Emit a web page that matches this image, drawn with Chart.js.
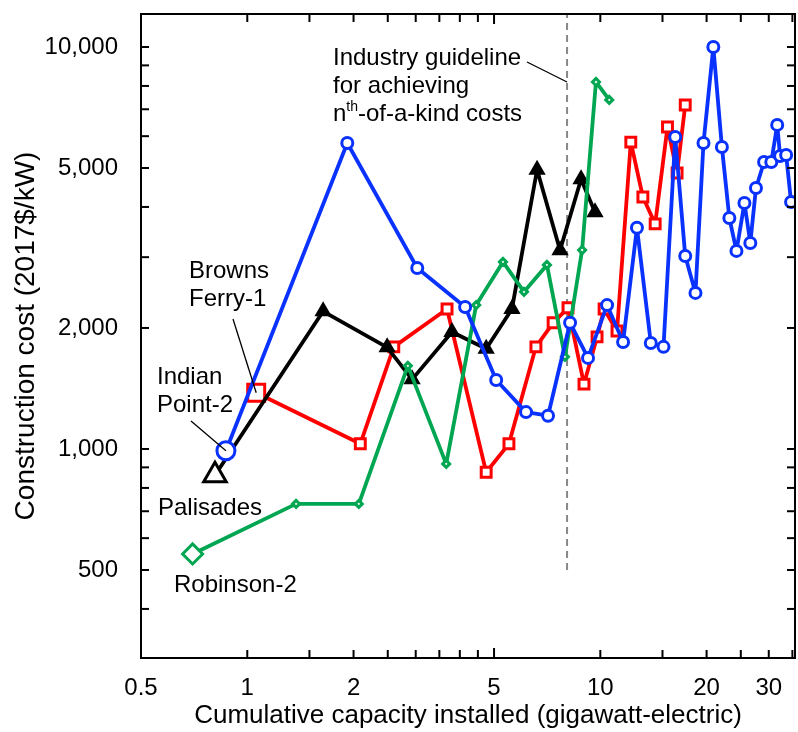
<!DOCTYPE html>
<html lang="en">
<head>
<script src="https://cdn.jsdelivr.net/npm/chart.js@4.4.1/dist/chart.umd.min.js"></script>
<style>
  html, body { margin: 0; padding: 0; background: #fff; }
</style>
</head>
<body>
<canvas id="chart" width="798" height="732"></canvas>
<script>
// cumulative capacity (GWe) and construction cost (2017$/kW), one pair per reactor series
const indianX = [0.87, 1.92, 3.03, 4.14, 5.07, 6.16, 7.11, 8.21, 9.23, 10.45, 11.6, 12.7, 13.9, 15.1, 16.3, 17.4,
                 18.6, 19.6, 20.9, 22.1, 23.2, 24.3, 25.6, 26.6, 27.6, 29.1, 30.5, 31.7, 32.3, 33.6, 34.7];
const indianY = [990, 5770, 2820, 2255, 1485, 1235, 1210, 2060, 1685, 2280, 1845, 3550, 1835, 1795, 5970, 3020,
                 2445, 5770, 10000, 5640, 3755, 3110, 4090, 3255, 4460, 5175, 5175, 6400, 5355, 5385, 4115];

const brownsX = [1.06, 2.09, 2.60, 3.68, 4.75, 5.51, 6.57, 7.35, 8.10, 8.99, 9.79, 10.25, 11.15, 12.2, 13.2, 14.3, 15.5, 16.5, 17.4];
const brownsY = [1380, 1030, 1795, 2230, 875, 1030, 1795, 2060, 2245, 1450, 1900, 2230, 1965, 5800, 4235, 3630, 6325, 4860, 7175];

const palisadesX = [0.81, 1.64, 2.49, 2.93, 3.80, 4.75, 5.62, 6.62, 7.69, 8.82, 9.66];
const palisadesY = [860, 2200, 1790, 1490, 1955, 1775, 2230, 4950, 3120, 4690, 3880];

const robinsonX = [0.70, 1.375, 2.07, 2.85, 3.66, 4.45, 5.30, 6.08, 7.06, 7.94, 8.88, 9.72, 10.6];
const robinsonY = [548, 730, 730, 1610, 918, 2280, 2920, 2460, 2870, 1695, 3125, 8185, 7385];

const guidelineX = 8.05;
const guidelineFloor = 500;

const xLabelTicks = [0.5, 1, 2, 5, 10, 20, 30];
const yLabelTicks = [500, 1000, 2000, 5000, 10000];
const xMarkTicks = [1, 1.5, 2, 2.5, 3, 3.5, 4, 4.5, 5, 10, 15, 20, 25, 30, 35];
const yMarkTicks = [400, 500, 600, 700, 800, 900, 1000, 2000, 3000, 4000, 5000, 6000, 7000, 8000, 9000, 10000];

const FONT = "'Liberation Sans', Arial, Helvetica, sans-serif";

function series(xs, ys, color, style, big, small, fillFirst, fillRest) {
  return {
    data: xs.map((x, i) => ({x: x, y: ys[i]})),
    borderColor: color,
    borderWidth: 3.8,
    borderJoinStyle: 'round',
    pointStyle: style,
    pointRadius: xs.map((_, i) => i === 0 ? big : small),
    pointBorderColor: color,
    pointBorderWidth: 3,
    pointBackgroundColor: xs.map((_, i) => i === 0 ? fillFirst : fillRest),
    tension: 0
  };
}

const tickline = (ctx, x1, y1, x2, y2) => {
  ctx.beginPath(); ctx.moveTo(x1, y1); ctx.lineTo(x2, y2); ctx.stroke();
};

const decor = {
  id: 'decor',
  beforeDatasetsDraw(chart) {
    const {ctx, chartArea: a, scales: {x, y}} = chart;
    const gx = x.getPixelForValue(guidelineX);
    ctx.save();
    ctx.strokeStyle = '#888';
    ctx.lineWidth = 2;
    ctx.setLineDash([7, 5]);
    tickline(ctx, gx, y.getPixelForValue(guidelineFloor), gx, a.top);
    ctx.restore();
  },
  afterDatasetsDraw(chart) {
    const {ctx, chartArea: a, scales: {x, y}} = chart;
    ctx.save();
    // frame + inward ticks
    ctx.strokeStyle = '#000';
    ctx.lineWidth = 2;
    ctx.strokeRect(a.left, a.top, a.right - a.left, a.bottom - a.top);
    xMarkTicks.forEach(v => {
      const px = x.getPixelForValue(v);
      const len = v === 5 ? 10 : 8;
      tickline(ctx, px, a.bottom, px, a.bottom - len);
      tickline(ctx, px, a.top, px, a.top + len);
    });
    yMarkTicks.forEach(v => {
      const py = y.getPixelForValue(v);
      tickline(ctx, a.left, py, a.left + 8, py);
      tickline(ctx, a.right, py, a.right - 8, py);
    });

    // labels and leader lines
    ctx.fillStyle = '#000';
    ctx.font = '24px ' + FONT;
    ctx.textBaseline = 'alphabetic';
    ctx.textAlign = 'left';
    ctx.lineWidth = 1.3;

    const gx = x.getPixelForValue(guidelineX);
    ctx.fillText('Industry guideline', 333, 65);
    ctx.fillText('for achieving', 333, 93);
    ctx.fillText('n', 333, 121);
    const nW = ctx.measureText('n').width;
    ctx.font = '14px ' + FONT;
    ctx.fillText('th', 333 + nW, 111);
    const thW = ctx.measureText('th').width;
    ctx.font = '24px ' + FONT;
    ctx.fillText('-of-a-kind costs', 333 + nW + thW, 121);
    tickline(ctx, 527, 62, gx, 82);

    const bfx = x.getPixelForValue(brownsX[0]), bfy = y.getPixelForValue(brownsY[0]);
    ctx.fillText('Browns', 189, 278);
    ctx.fillText('Ferry-1', 189, 306);
    tickline(ctx, 233, 319, bfx, bfy);

    const ipx = x.getPixelForValue(indianX[0]), ipy = y.getPixelForValue(indianY[0]);
    ctx.fillText('Indian', 157, 384);
    ctx.fillText('Point-2', 157, 412);
    tickline(ctx, 191, 421, ipx, ipy);

    ctx.fillText('Palisades', 158, 515);
    ctx.fillText('Robinson-2', 174, 592);
    ctx.restore();
  }
};

new Chart(document.getElementById('chart'), {
  type: 'line',
  data: {
    datasets: [
      series(indianX, indianY, '#0a32ff', 'circle', 9, 5.5, '#fff', '#fff'),
      series(robinsonX, robinsonY, '#00a651', 'rectRot', 10, 3.5, '#fff', '#fff'),
      series(palisadesX, palisadesY, '#000', 'triangle', 13, 7, '#fff', '#000'),
      series(brownsX, brownsY, '#ff0000', 'rect', 12, 7, '#fff', '#fff')
    ]
  },
  options: {
    responsive: false,
    animation: false,
    devicePixelRatio: 1,
    layout: {autoPadding: false, padding: {top: 14, right: 3, left: 0, bottom: 0}},
    plugins: {legend: {display: false}, tooltip: {enabled: false}},
    scales: {
      x: {
        type: 'logarithmic',
        min: 0.5,
        max: 35.6,
        afterBuildTicks: s => { s.ticks = xLabelTicks.map(v => ({value: v})); },
        afterFit: s => { s.height = 74; s.paddingLeft = 0; s.paddingRight = 0; },
        grid: {display: false, drawTicks: false},
        border: {display: false},
        ticks: {
          font: {size: 24, family: FONT}, color: '#000', padding: 16,
          maxRotation: 0, autoSkip: false,
          callback: v => String(v)
        },
        title: {
          display: true, text: 'Cumulative capacity installed (gigawatt-electric)',
          font: {size: 26, family: FONT}, color: '#000', padding: {top: 0, bottom: 1}
        }
      },
      y: {
        type: 'logarithmic',
        min: 302,
        max: 12080,
        afterBuildTicks: s => { s.ticks = yLabelTicks.map(v => ({value: v})); },
        afterFit: s => { s.width = 141; s.paddingTop = 0; s.paddingBottom = 0; },
        grid: {display: false, drawTicks: false},
        border: {display: false},
        ticks: {
          font: {size: 24, family: FONT}, color: '#000', padding: 23,
          autoSkip: false,
          callback: v => v.toLocaleString('en-US')
        },
        title: {
          display: true, text: 'Construction cost (2017$/kW)',
          font: {size: 28, family: FONT}, color: '#000', padding: {top: 9, bottom: 0}
        }
      }
    }
  },
  plugins: [decor]
});
</script>
</body>
</html>
